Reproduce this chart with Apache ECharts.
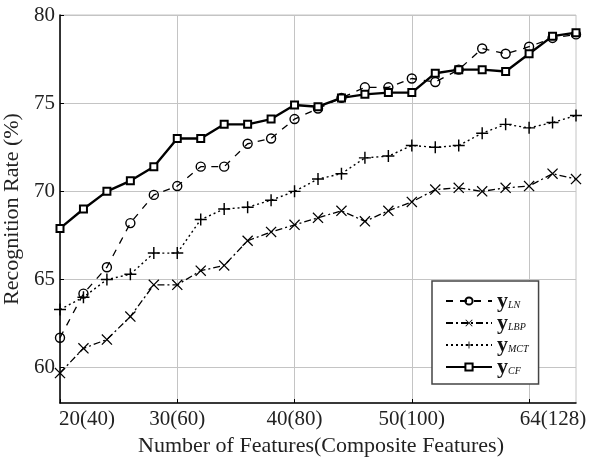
<!DOCTYPE html>
<html lang="en">
<head>
<meta charset="UTF-8">
<title>Recognition Rate</title>
<script src="https://cdn.jsdelivr.net/npm/echarts@6/dist/echarts.min.js"></script>
<style>
  html, body { margin: 0; padding: 0; background: #fff; }
  #chart { width: 590px; height: 458px; }
</style>
</head>
<body>
<div id="chart"></div>
<script>
// number of features, one category per measured point
const features = ['20', '22', '24', '26', '28', '30', '32', '34', '36', '38', '40', '42',
                  '44', '46', '48', '50', '52', '54', '56', '58', '60', '62', '64'];
const xTickLabels = ['20(40)', '30(60)', '40(80)', '50(100)', '64(128)'];
const yTickValues = [60, 65, 70, 75, 80];

// recognition rate (%)
const yLN  = [61.7, 64.2, 65.7, 68.2, 69.8, 70.3, 71.4, 71.4, 72.7, 73.0, 74.1, 74.7,
              75.3, 75.9, 75.9, 76.4, 76.2, 76.9, 78.1, 77.8, 78.2, 78.7, 78.9];
const yLBP = [59.7, 61.1, 61.6, 62.9, 64.7, 64.7, 65.5, 65.8, 67.2, 67.7, 68.1, 68.5,
              68.9, 68.3, 68.9, 69.4, 70.1, 70.2, 70.0, 70.2, 70.3, 71.0, 70.7];
const yMCT = [63.3, 64.0, 65.0, 65.3, 66.5, 66.5, 68.4, 69.0, 69.1, 69.5, 70.0, 70.7,
              71.0, 71.9, 72.0, 72.6, 72.5, 72.6, 73.3, 73.8, 73.6, 73.9, 74.3];
const yCF  = [67.9, 69.0, 70.0, 70.6, 71.4, 73.0, 73.0, 73.8, 73.8, 74.1, 74.9, 74.8,
              75.3, 75.5, 75.6, 75.6, 76.7, 76.9, 76.9, 76.8, 77.8, 78.8, 79.0];

const serif = '"Liberation Serif", "DejaVu Serif", serif';
const gridColor = '#c4c4c4';
const plusPath = 'path://M4.4,0H5.6V4.4H10V5.6H5.6V10H4.4V5.6H0V4.4H4.4Z';
const crossPath = 'path://M0,0.8L0.8,0L5,4.2L9.2,0L10,0.8L5.8,5L10,9.2L9.2,10L5,5.8L0.8,10L0,9.2L4.2,5Z';

let chart = echarts.init(document.getElementById('chart'));

let option = {
    animation: false,
    grid: {
        left: 60, right: 14, top: 15, bottom: 55,
        outerBoundsMode: 'none', containLabel: false,
        show: true, borderColor: gridColor, borderWidth: 1
    },
    legend: {
        orient: 'vertical',
        left: 432, top: 281,
        padding: [9, 10, 6, 13],
        itemGap: 0,
        itemWidth: 46, itemHeight: 9,
        backgroundColor: '#fff',
        borderColor: '#444', borderWidth: 1.5, borderRadius: 0,
        data: ['LN', 'LBP', 'MCT', 'CF'],
        formatter: function (name) { return '{y|y}{s|' + name + '}'; },
        textStyle: {
            rich: {
                y: { fontFamily: serif, fontWeight: 'bold', fontSize: 22, color: '#111', lineHeight: 18 },
                s: { fontFamily: serif, fontStyle: 'italic', fontSize: 10, color: '#111', verticalAlign: 'bottom', lineHeight: 12 }
            }
        }
    },
    xAxis: {
        type: 'category',
        data: features,
        boundaryGap: false,
        name: 'Number of Features(Composite Features)',
        nameLocation: 'middle',
        nameGap: 30,
        nameTextStyle: { fontFamily: serif, fontSize: 22, color: '#222', padding: [0, 0, 0, 6] },
        axisLine: { lineStyle: { color: '#000', width: 1.5 } },
        axisTick: { inside: true, length: 4, interval: 4, lineStyle: { color: '#000' } },
        axisLabel: {
            interval: 4,
            margin: 6,
            formatter: function (v, i) {
                let k = Math.round(i / 5);
                if (k === 0) return '{a|' + xTickLabels[k] + '}';
                if (k === xTickLabels.length - 1) return '{e|' + xTickLabels[k] + '}';
                return '{m|' + xTickLabels[k] + '}';
            },
            rich: {
                a: { fontFamily: serif, fontSize: 21, color: '#222', padding: [0, 0, 0, 54] },
                m: { fontFamily: serif, fontSize: 21, color: '#222' },
                e: { fontFamily: serif, fontSize: 21, color: '#222', padding: [0, 0, 0, 48] }
            }
        },
        splitLine: { show: true, interval: 4, lineStyle: { color: gridColor } }
    },
    yAxis: {
        type: 'value',
        min: 58, max: 80,
        name: 'Recognition Rate (%)',
        nameLocation: 'middle',
        nameGap: 29,
        nameTextStyle: { fontFamily: serif, fontSize: 22, color: '#222' },
        axisLine: { show: true, lineStyle: { color: '#000', width: 1.5 } },
        axisTick: { show: true, inside: true, length: 4, customValues: yTickValues, lineStyle: { color: '#000' } },
        axisLabel: { customValues: yTickValues, margin: 5, fontFamily: serif, fontSize: 21, color: '#222' },
        splitLine: { show: true, lineStyle: { color: gridColor } }
    },
    series: [{
        name: 'LN',
        type: 'line',
        data: yLN,
        symbol: 'circle',
        symbolSize: 9,
        lineStyle: { color: '#000', width: 1.3, type: [7, 7] },
        itemStyle: { color: 'rgba(255,255,255,0)', borderColor: '#000', borderWidth: 1.4 }
    }, {
        name: 'LBP',
        type: 'line',
        data: yLBP,
        symbol: crossPath,
        symbolSize: 11,
        lineStyle: { color: '#000', width: 1.3, type: [7, 3, 2, 3] },
        itemStyle: { color: '#000', borderWidth: 0 }
    }, {
        name: 'MCT',
        type: 'line',
        data: yMCT,
        symbol: plusPath,
        symbolSize: 12,
        lineStyle: { color: '#000', width: 1.4, type: [2, 3] },
        itemStyle: { color: '#000', borderWidth: 0 }
    }, {
        name: 'CF',
        type: 'line',
        data: yCF,
        symbol: 'rect',
        symbolSize: 7,
        lineStyle: { color: '#000', width: 2.4 },
        itemStyle: { color: '#fff', borderColor: '#000', borderWidth: 2 }
    }]
};

chart.setOption(option);
</script>
</body>
</html>
